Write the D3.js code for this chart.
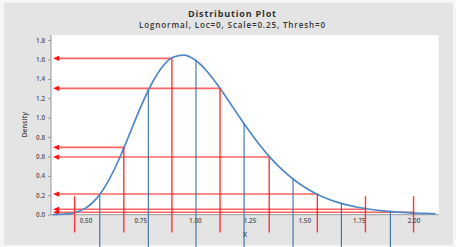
<!DOCTYPE html>
<html><head><meta charset="utf-8">
<script src="https://cdn.jsdelivr.net/npm/d3@7"></script>
<style>
html,body{margin:0;padding:0;background:#f6f6f6;}
svg{display:block;}
text{font-family:"Open Sans","Noto Sans",sans-serif;}
</style></head>
<body>
<script>
// ---- data ----
const curveX = [0.35,0.40,0.45,0.50,0.55,0.60,0.65,0.70,0.75,0.80,0.85,0.90,0.95,1.00,1.05,1.10,1.15,1.20,1.25,1.30,1.35,1.40,1.45,1.50,1.55,1.60,1.65,1.70,1.75,1.80,1.85,1.90,1.95,2.00,2.05,2.10];
const curveY = [0.001,0.005,0.022,0.068,0.166,0.330,0.556,0.824,1.098,1.339,1.520,1.622,1.645,1.596,1.491,1.349,1.187,1.019,0.857,0.708,0.575,0.461,0.365,0.286,0.222,0.170,0.130,0.099,0.074,0.056,0.042,0.031,0.023,0.017,0.013,0.009];
const blueX = [0.565,0.787,1.005,1.225,1.449,1.670,1.894];
const blueTop = [0.205,1.285,1.588,0.938,0.366,0.118,0.032];
const redX = [0.45,0.675,0.895,1.115,1.34,1.56,1.78,2.00];
const redTop = [0.19,0.694,1.611,1.302,0.594,0.213,0.19,0.19];
const arrowLevel = [1.611,1.302,0.694,0.594,0.213,0.056,0.025];
const arrowEnd = [0.895,1.115,0.675,1.34,1.56,1.78,2.00];
const xTicks = [0.50,0.75,1.00,1.25,1.50,1.75,2.00];
const yTicks = [0.0,0.2,0.4,0.6,0.8,1.0,1.2,1.4,1.6,1.8];
const title = "Distribution Plot";
const subtitle = "Lognormal, Loc=0, Scale=0.25, Thresh=0";

const W = 456, H = 247;
const L = 51, R = 438.7, T = 35, B = 214.7;
const svg = d3.select("body").append("svg").attr("width", W).attr("height", H);

svg.append("rect").attr("x",4).attr("y",3).attr("width",449).attr("height",242).attr("fill","#e4e4e4");
svg.append("rect").attr("x",L).attr("y",T).attr("width",R-L).attr("height",B-T).attr("fill","#fff");

const x = d3.scaleLinear().domain([0.342, 2.115]).range([L, R]);
const y = d3.scaleLinear().domain([0, 1.8]).range([B, 40]);

// titles
svg.append("text").attr("x",232).attr("y",17).attr("text-anchor","middle")
  .attr("font-size",9).attr("font-weight",700).attr("fill","#333")
  .attr("textLength",88).attr("lengthAdjust","spacing").text(title);
svg.append("text").attr("x",232).attr("y",28.3).attr("text-anchor","middle")
  .attr("font-size",8).attr("font-weight",600).attr("fill","#333")
  .attr("textLength",186).attr("lengthAdjust","spacing").text(subtitle);

// axes
const yAxis = d3.axisLeft(y).tickValues(yTicks).tickFormat(d3.format(".1f")).tickSize(3).tickPadding(3);
const gy = svg.append("g").attr("transform",`translate(${L},0)`).call(yAxis);
gy.select(".domain").attr("stroke","#999").attr("d",`M0,${T}V${B}`);
gy.selectAll(".tick line").attr("stroke","#999");
gy.selectAll("text").attr("font-size",6.3).attr("font-weight",600).attr("fill","#555").attr("font-family","Open Sans");

const xAxis = d3.axisBottom(x).tickValues(xTicks).tickFormat(d3.format(".2f")).tickSize(0).tickPadding(4);
const gx = svg.append("g").attr("transform",`translate(0,${B})`).call(xAxis);
gx.select(".domain").attr("stroke","#999").attr("d",`M${L},0H${R}`);
gx.selectAll("text").attr("font-size",6.3).attr("font-weight",600).attr("fill","#555").attr("font-family","Open Sans");

svg.append("text").attr("x",245).attr("y",237).attr("text-anchor","middle")
  .attr("font-size",7).attr("font-weight",600).attr("fill","#444").text("X");
svg.append("text").attr("transform",`translate(27,${(T+B)/2}) rotate(-90)`).attr("text-anchor","middle")
  .attr("font-size",7).attr("font-weight",600).attr("fill","#444").text("Density");

// red horizontal arrows
svg.append("g").selectAll("line").data(arrowLevel).join("line")
  .attr("x1", L+5).attr("x2",(d,i)=>x(arrowEnd[i]))
  .attr("y1", d=>y(d)).attr("y2", d=>y(d))
  .attr("stroke","#ff3030").attr("stroke-opacity",0.75).attr("stroke-width",1.6);
svg.append("g").selectAll("path").data(arrowLevel).join("path")
  .attr("d", d=>`M${L+2},${y(d)}L${L+8},${y(d)-2.6}L${L+8},${y(d)+2.6}Z`)
  .attr("fill","#ff1010");

// curve
const line = d3.line().x((d,i)=>x(curveX[i])).y(d=>y(d)).curve(d3.curveMonotoneX);
svg.append("path").datum(curveY).attr("d",line).attr("fill","none")
  .attr("stroke","#4f88c6").attr("stroke-width",1.7);

// blue verticals
svg.append("g").selectAll("line").data(blueX).join("line")
  .attr("x1",d=>x(d)).attr("x2",d=>x(d))
  .attr("y1",(d,i)=>y(blueTop[i])).attr("y2",y(-0.36))
  .attr("stroke","#3a6ea8").attr("stroke-width",1.1);

// red verticals
svg.append("g").selectAll("line").data(redX).join("line")
  .attr("x1",d=>x(d)).attr("x2",d=>x(d))
  .attr("y1",(d,i)=>y(redTop[i])).attr("y2",y(-0.183))
  .attr("stroke","#ff2020").attr("stroke-opacity",0.9).attr("stroke-width",1.4);
</script>
</body></html>
